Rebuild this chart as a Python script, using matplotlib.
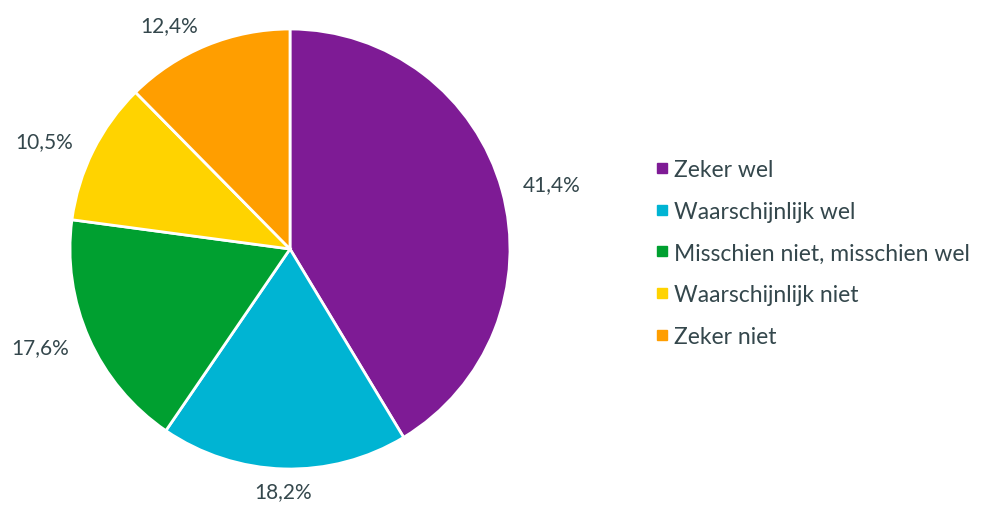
import numpy as np
import matplotlib
matplotlib.use("Agg")
import matplotlib.pyplot as plt
from matplotlib.lines import Line2D

categories = ["Zeker wel", "Waarschijnlijk wel", "Misschien niet, misschien wel",
              "Waarschijnlijk niet", "Zeker niet"]
values = [41.4, 18.2, 17.6, 10.5, 12.4]
value_labels = ["41,4%", "18,2%", "17,6%", "10,5%", "12,4%"]
colors = ["#7E1B95", "#00B4D3", "#00A030", "#FFD300", "#FF9E00"]

text_color = "#34474c"
plt.rcParams['font.family'] = ['Lato', 'DejaVu Sans']

W, H = 982, 510
fig = plt.figure(figsize=(W / 100, H / 100), dpi=100)
cx, cy, R = 290, 250, 220
ax = fig.add_axes([(cx - R) / W, 1 - (cy + R) / H, 2 * R / W, 2 * R / H])
wedges, _ = ax.pie(values, colors=colors, startangle=90, counterclock=False,
                   wedgeprops=dict(edgecolor="white", linewidth=2),
                   normalize=True)
ax.set_xlim(-1, 1)
ax.set_ylim(-1, 1)
ax.set_aspect("equal")

for w, lab in zip(wedges, value_labels):
    ang = np.deg2rad((w.theta1 + w.theta2) / 2)
    x, y = 1.1 * np.cos(ang), 1.1 * np.sin(ang)
    if abs(np.cos(ang)) < 0.2:
        ha = "center"
    else:
        ha = "left" if x > 0 else "right"
    ax.text(x, y, lab, ha=ha, va="center", fontsize=15, color=text_color,
            clip_on=False)

handles = [Line2D([0], [0], marker="s", linestyle="none", markersize=7,
                  markerfacecolor=c, markeredgecolor=c) for c in colors]
leg = fig.legend(handles, categories, loc="upper left",
                 bbox_to_anchor=(646 / W, 1 - 151 / H), frameon=False,
                 fontsize=16.5, labelcolor=text_color,
                 handlelength=0.6, handletextpad=0.2, labelspacing=0.9,
                 borderaxespad=0)

fig.savefig("out.png", dpi=100, facecolor="white")
